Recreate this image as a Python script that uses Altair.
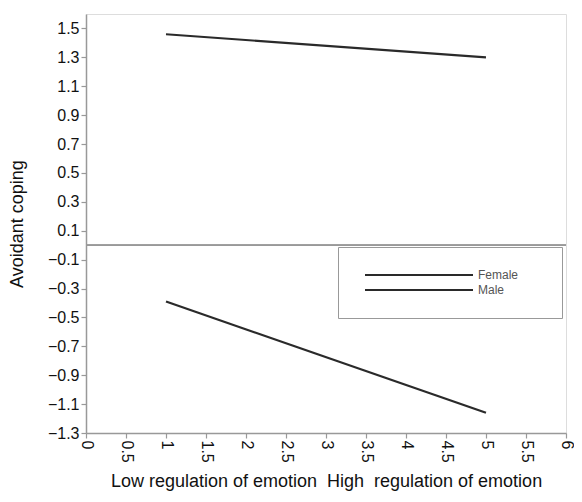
import altair as alt
import pandas as pd

# Data
x_points = [1, 5]
female = [1.46, 1.30]
male = [-0.39, -1.16]
series_names = ["Female", "Male"]
y_ticks = [-1.3, -1.1, -0.9, -0.7, -0.5, -0.3, -0.1, 0.1, 0.3, 0.5, 0.7, 0.9, 1.1, 1.3, 1.5]
x_ticks = [0, 0.5, 1, 1.5, 2, 2.5, 3, 3.5, 4, 4.5, 5, 5.5, 6]

rows = []
for name, vals in zip(series_names, [female, male]):
    for xv, yv in zip(x_points, vals):
        rows.append({"x": xv, "y": yv, "group": name})
df = pd.DataFrame(rows)

FONT = "Liberation Sans"
GRAY = "#999999"
TXT = "#111111"

axis_style = dict(
    domainColor=GRAY, domainWidth=1.5, tickColor=GRAY, tickWidth=1.2, tickSize=5,
    labelPadding=2, labelFont=FONT, labelFontSize=16, labelColor=TXT, labelOverlap=False,
    labelFlush=False, tickCount=40,
    titleFont=FONT, titleFontSize=18, titleFontWeight="normal", titleColor=TXT, grid=False,
)

xscale = alt.Scale(domain=[0, 6], nice=False, zero=False)
yscale = alt.Scale(domain=[-1.3, 1.6], nice=False, zero=False)

lines = alt.Chart(df).mark_line(strokeWidth=2.2).encode(
    x=alt.X("x:Q", scale=xscale,
            axis=alt.Axis(values=x_ticks, labelExpr="'' + datum.value", labelAngle=90,
                          title="Low regulation of emotion\u00a0\u00a0High\u00a0\u00a0regulation of emotion",
                          titlePadding=10, **axis_style)),
    y=alt.Y("y:Q", scale=yscale,
            axis=alt.Axis(values=y_ticks, labelExpr="format(datum.value, '.1f')",
                          title="Avoidant coping", titlePadding=21, **axis_style)),
    color=alt.Color("group:N",
                    scale=alt.Scale(domain=series_names, range=["#2a2a2a", "#2a2a2a"]),
                    legend=alt.Legend(title=None, orient="none", legendX=252, legendY=233,
                                      symbolType="M-1,0H107M170,0", symbolSize=4,
                                      symbolStrokeWidth=2, symbolStrokeColor="#333333",
                                      labelOffset=106, labelFontSize=12, labelColor="#555555",
                                      labelFont=FONT, rowPadding=3,
                                      padding=22, strokeColor=GRAY)),
    detail="group:N",
)

zero_line = alt.Chart(df).mark_rule(color=GRAY, strokeWidth=1.5).encode(y=alt.datum(0))

chart = alt.layer(zero_line, lines).properties(
    width=480, height=419,
    padding={"left": 78, "top": 6, "right": 8, "bottom": 61},
    autosize="none",
).configure_view(
    stroke=GRAY, strokeWidth=1.5
).configure(background="white")

chart.save("out.html", embed_options={"renderer": "svg", "actions": False})
